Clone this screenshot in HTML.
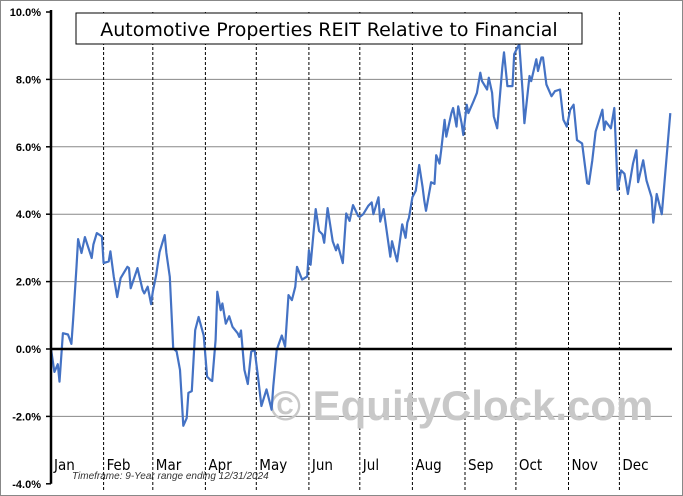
<!DOCTYPE html>
<html><head><meta charset="utf-8"><style>
body{margin:0;background:#fff}
svg{display:block}
</style></head><body>
<svg width="683" height="496" xmlns="http://www.w3.org/2000/svg" font-family="Liberation Sans, sans-serif">
<rect x="0.5" y="0.5" width="682" height="495" fill="#fff" stroke="#888"/>
<g id="grid"></g>
<text x="270" y="420" font-size="42" font-weight="bold" fill="#c8c8c8">© EquityClock.com</text>
<g id="marks"></g>
<g id="axes"></g>
<rect x="76" y="13" width="506" height="31" fill="#fff" stroke="#000"/>
<text x="329" y="36" font-size="19" text-anchor="middle" font-family="DejaVu Sans, sans-serif">Automotive Properties REIT Relative to Financial</text>
<text x="72" y="479" font-size="10" font-style="italic" fill="#333">Timeframe: 9-Year range ending 12/31/2024</text>
</svg>
<script>
const yTicks=[10,8,6,4,2,0,-2,-4];
const months=["Jan","Feb","Mar","Apr","May","Jun","Jul","Aug","Sep","Oct","Nov","Dec"];
const monthStarts=[0,31,60,91,121,152,182,213,244,274,305,335];
const days=[0,2,4,5,7,10,12,13,15,16,18,20,24,25,27,30,31,34,35,37,39,41,45,46,47,49,51,54,55,57,59,60,62,64,67,68,70,72,74,76,78,80,81,83,85,87,90,92,94,95,97,98,100,101,103,105,107,110,111,112,114,116,118,120,122,124,127,130,131,133,136,138,140,142,144,145,148,151,152,153,156,158,160,161,163,166,168,169,172,174,176,178,181,182,184,187,189,190,193,194,196,200,201,204,207,209,210,211,213,215,217,219,220,221,224,226,227,229,230,232,233,236,237,239,240,242,243,245,246,249,251,253,254,257,258,260,261,263,266,267,269,272,273,276,278,279,282,283,286,287,289,290,292,295,297,300,302,304,306,308,310,313,316,317,319,321,325,326,327,330,332,334,336,338,340,343,345,346,349,351,354,355,357,360,362,365];
const values=[0,-0.68,-0.45,-0.97,0.47,0.43,0.15,0.86,2.44,3.26,2.85,3.32,2.7,3.1,3.44,3.34,2.55,2.6,2.9,2.14,1.54,2.1,2.44,2.4,1.8,2.1,2.4,1.75,1.65,1.85,1.33,1.7,2.2,2.88,3.38,2.85,2.14,0.02,-0.07,-0.62,-2.28,-2.05,-1.3,-1.25,0.56,0.95,0.4,-0.82,-0.92,-0.95,0.27,1.7,1.15,1.35,0.75,0.97,0.66,0.47,0.36,0.55,-0.62,-1.04,-0.08,-0.03,-0.82,-1.69,-1.2,-1.8,-1.1,-0.03,0.4,0.07,1.6,1.45,1.85,2.44,2.06,2.15,2.93,2.5,4.15,3.5,3.4,3.15,4.18,3.2,2.93,3.1,2.55,4.02,3.8,4.27,3.95,3.92,4.0,4.25,4.35,4.0,4.5,3.78,4.15,2.74,3.2,2.6,3.7,3.3,3.75,3.9,4.5,4.7,5.46,4.8,4.4,4.1,4.95,4.9,5.75,5.5,5.9,6.8,6.3,7.0,7.15,6.6,7.2,6.7,6.35,7.25,7.0,7.35,7.6,8.2,7.95,7.7,8.05,7.6,6.9,6.55,8.35,8.8,7.8,7.8,8.75,9.05,7.6,6.7,8.1,7.95,8.6,8.25,8.65,8.65,7.85,7.5,7.65,7.7,6.8,6.6,7.1,7.25,6.2,6.1,4.92,4.9,5.6,6.45,7.1,6.5,6.75,6.55,7.15,4.72,5.3,5.2,4.6,5.5,5.9,4.95,5.6,5.0,4.5,3.75,4.6,4.0,5.2,7.0];
const X0=51,X1=672,Y0=349,PX=33.7;
const xs=d=>X0+d*(X1-X0)/366;
const ys=v=>Y0-v*PX;
const NS="http://www.w3.org/2000/svg";
function mk(tag,attrs,parent,txt){const e=document.createElementNS(NS,tag);for(const k in attrs)e.setAttribute(k,attrs[k]);if(txt!==undefined)e.textContent=txt;parent.appendChild(e);return e;}
const grid=document.getElementById('grid'),axes=document.getElementById('axes'),marks=document.getElementById('marks');
yTicks.forEach(t=>{
  if(t!==0&&t!==-4&&t!==10){const l=mk('line',{x1:X0,x2:X1,y1:ys(t),y2:ys(t),stroke:'#888','stroke-width':1},grid);
  
  }
  const tk=mk('line',{x1:X0-5,x2:X0,y1:ys(t),y2:ys(t),stroke:'#000','stroke-width':1.5},axes);
  
  
  const lb=mk('text',{x:X0-10,y:ys(t)+4,'font-size':11,'font-weight':'bold','text-anchor':'end'},axes,t.toFixed(1)+'%');
  
  
});
monthStarts.forEach((d,i)=>{
  if(i>0){const l=mk('line',{x1:xs(d),x2:xs(d),y1:12,y2:490,stroke:'#000','stroke-width':1,'stroke-dasharray':'3,2'},grid);
  
  }
  const lb=mk('text',{x:xs(d)+3,y:470,'font-size':15,'font-family':'DejaVu Sans Condensed, DejaVu Sans, sans-serif'},axes,months[i]);
  
  
});
const za=mk('line',{x1:X0,x2:X1,y1:ys(0),y2:ys(0),stroke:'#000','stroke-width':2.5},axes);


const ya=mk('line',{x1:X0,x2:X0,y1:10,y2:ys(-4),stroke:'#000','stroke-width':2.5},axes);


const pts=days.map((d,i)=>xs(d).toFixed(1)+','+ys(values[i]).toFixed(1)).join(' ');
const pl=mk('polyline',{points:pts,fill:'none',stroke:'#4472c4','stroke-width':2.2,'stroke-linejoin':'round'},marks);


</script>
</body></html>
